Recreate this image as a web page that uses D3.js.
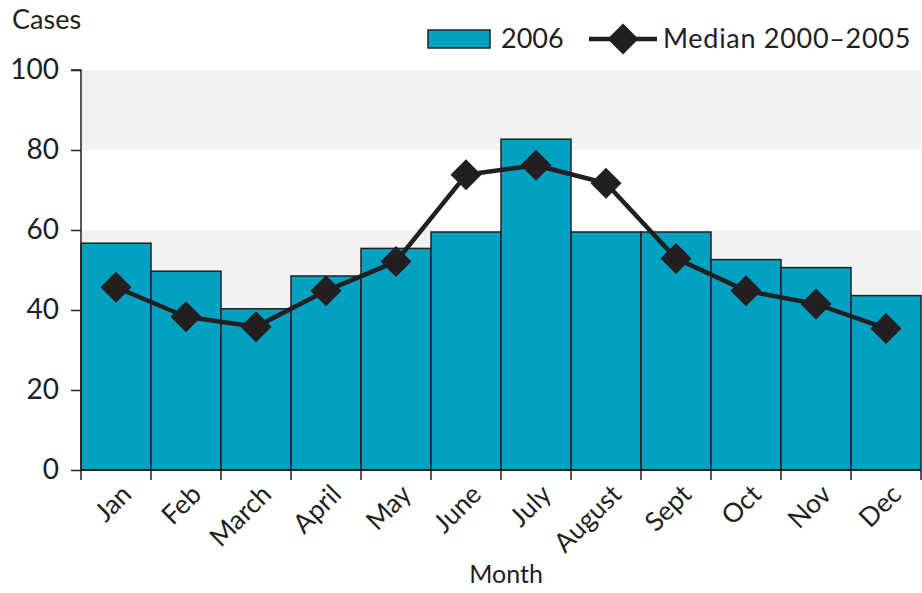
<!DOCTYPE html>
<html><head><meta charset="utf-8">
<script src="https://cdn.jsdelivr.net/npm/d3@7"></script>
<style>body{margin:0;background:#fff}svg{display:block}text{font-family:"Lato","Open Sans",sans-serif;fill:#231f20}</style>
</head><body>
<script>
const months = ["Jan","Feb","March","April","May","June","July","August","Sept","Oct","Nov","Dec"];
const cases2006 = [56.7, 49.7, 40.3, 48.5, 55.4, 59.5, 82.7, 59.5, 59.5, 52.6, 50.6, 43.6];
const median2000_2005 = [45.7, 38.3, 35.8, 44.8, 52.1, 73.8, 76.2, 71.7, 52.9, 44.8, 41.5, 35.4];
const yTicks = [0, 20, 40, 60, 80, 100];

const W = 922, H = 593;
const m = {left: 81, right: 1, top: 70, bottom: 123};
const svg = d3.select("body").append("svg").attr("width", W).attr("height", H);
const x = d3.scaleBand().domain(months).range([m.left, W - m.right]).padding(0);
const y = d3.scaleLinear().domain([0, 100]).range([H - m.bottom, m.top]);
const ink = "#231f20";

// background bands
const bands = [[80,100],[40,60],[0,20]];
svg.append("g").selectAll("rect").data(bands).join("rect")
  .attr("x", m.left).attr("width", W - m.right - m.left)
  .attr("y", d => y(d[1])).attr("height", d => y(d[0]) - y(d[1]))
  .attr("fill", "#f1f2f4");

// bars
svg.append("g").selectAll("rect").data(cases2006).join("rect")
  .attr("x", (d,i) => x(months[i])).attr("width", x.bandwidth())
  .attr("y", d => y(d)).attr("height", d => y(0) - y(d))
  .attr("fill", "#02a1c1").attr("stroke", ink).attr("stroke-width", 1.5);

// y axis
const ya = svg.append("g").attr("transform", `translate(${m.left},0)`)
  .call(d3.axisLeft(y).tickValues(yTicks).tickSize(10).tickPadding(12));
ya.select(".domain").attr("stroke", ink).attr("stroke-width", 1.5).attr("d", `M-10,${y(100)}H0V${y(0)}`);
ya.selectAll(".tick line").attr("stroke", ink).attr("stroke-width", 1.5);
ya.selectAll(".tick text").attr("font-size", 28).attr("font-family", "Lato, sans-serif").attr("fill", ink);

// x axis
const edges = months.map(mo => x(mo)).concat([x(months[11]) + x.bandwidth()]);
const xa = svg.append("g");
xa.append("line").attr("x1", m.left).attr("x2", W - m.right).attr("y1", y(0)).attr("y2", y(0))
  .attr("stroke", ink).attr("stroke-width", 2);
xa.selectAll("line.tk").data(edges).join("line").attr("class","tk")
  .attr("x1", d => d).attr("x2", d => d).attr("y1", y(0)).attr("y2", y(0) + 10)
  .attr("stroke", ink).attr("stroke-width", 1.5);
xa.selectAll("text").data(months).join("text")
  .attr("transform", d => `translate(${x(d) + x.bandwidth()/2 + 17},${y(0) + 26}) rotate(-45)`)
  .attr("text-anchor", "end").attr("font-size", 26.5).text(d => d);

// line
const line = d3.line().x((d,i) => x(months[i]) + x.bandwidth()/2).y(d => y(d));
svg.append("path").datum(median2000_2005).attr("d", line)
  .attr("fill", "none").attr("stroke", ink).attr("stroke-width", 4.5).attr("stroke-linejoin", "round");
const diamond = d3.symbol().type(d3.symbolSquare).size(480);
svg.append("g").selectAll("path").data(median2000_2005).join("path")
  .attr("d", diamond)
  .attr("transform", (d,i) => `translate(${x(months[i]) + x.bandwidth()/2},${y(d)}) rotate(45)`)
  .attr("fill", ink);

// titles
svg.append("text").attr("x", 12).attr("y", 29).attr("font-size", 27).text("Cases");
svg.append("text").attr("x", (m.left + W - m.right)/2 + 5).attr("y", 583).attr("text-anchor", "middle")
  .attr("font-size", 25).text("Month");

// legend
const lg = svg.append("g");
lg.append("rect").attr("x", 428).attr("y", 30).attr("width", 62).attr("height", 18)
  .attr("fill", "#02a1c1").attr("stroke", ink).attr("stroke-width", 1.5);
lg.append("text").attr("x", 501).attr("y", 48).attr("font-size", 27).text("2006");
lg.append("line").attr("x1", 589).attr("x2", 657).attr("y1", 39).attr("y2", 39)
  .attr("stroke", ink).attr("stroke-width", 4.5);
lg.append("path").attr("d", diamond).attr("transform", "translate(623,39) rotate(45)").attr("fill", ink);
lg.append("text").attr("x", 663).attr("y", 48).attr("font-size", 27).attr("letter-spacing", 0.7).text("Median 2000–2005");
</script>
</body></html>
